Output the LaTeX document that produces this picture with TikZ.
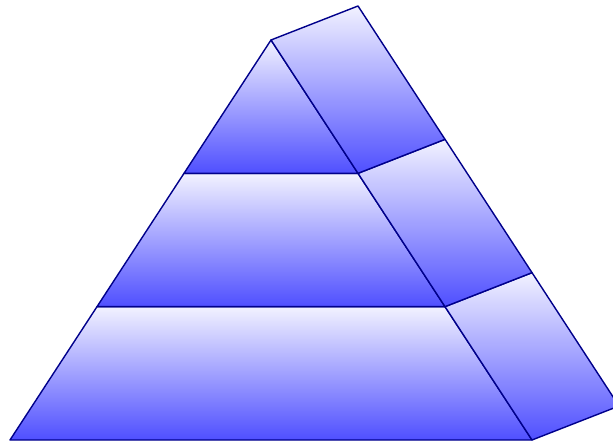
\documentclass[tikz,border=0pt]{standalone}
\usetikzlibrary{positioning,calc}
\definecolor{borde}{HTML}{00008B}
\definecolor{claro}{HTML}{F2F2FF}
\definecolor{azul}{HTML}{4F4FFF}

\tikzset{cara/.style={draw=borde, line join=round, top color=claro, bottom color=azul}}

\begin{document}
\begin{tikzpicture}
\useasboundingbox (-0.10,-0.02) rectangle (6.03,4.40);

% ================= puntos de la piramide =================
\coordinate (bl) at (0,0);
\coordinate (br) at (5.22,0);
\coordinate (ap) at (2.61,4);
\coordinate (l1) at ($(bl)!1/3!(ap)$);
\coordinate (l2) at ($(bl)!2/3!(ap)$);
\coordinate (r1) at ($(br)!1/3!(ap)$);
\coordinate (r2) at ($(br)!2/3!(ap)$);
% desplazamiento de la cara lateral
\coordinate (d) at (0.87,0.34);

% ================= cara frontal =================
\path[cara] (bl) -- (br) -- (r1) -- (l1) -- cycle;
\path[cara] (l1) -- (r1) -- (r2) -- (l2) -- cycle;
\path[cara] (l2) -- (r2) -- (ap) -- cycle;

% ================= cara lateral =================
\path[cara] (br) -- ($(br)+(d)$) -- ($(r1)+(d)$) -- (r1) -- cycle;
\path[cara] (r1) -- ($(r1)+(d)$) -- ($(r2)+(d)$) -- (r2) -- cycle;
\path[cara] (r2) -- ($(r2)+(d)$) -- ($(ap)+(d)$) -- (ap) -- cycle;

\end{tikzpicture}
\end{document}
